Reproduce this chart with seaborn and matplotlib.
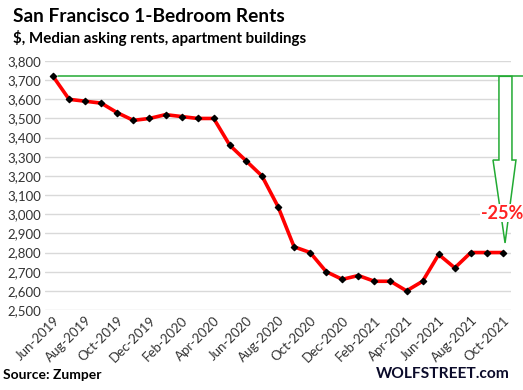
import matplotlib
matplotlib.use("Agg")
import matplotlib.pyplot as plt
import seaborn as sns
import pandas as pd
from matplotlib.patches import Polygon

months = ["Jun-2019","Jul-2019","Aug-2019","Sep-2019","Oct-2019","Nov-2019","Dec-2019",
          "Jan-2020","Feb-2020","Mar-2020","Apr-2020","May-2020","Jun-2020","Jul-2020",
          "Aug-2020","Sep-2020","Oct-2020","Nov-2020","Dec-2020","Jan-2021","Feb-2021",
          "Mar-2021","Apr-2021","May-2021","Jun-2021","Jul-2021","Aug-2021","Sep-2021","Oct-2021"]
rents = [3720, 3600, 3590, 3580, 3530, 3490, 3500, 3520, 3510, 3500, 3500, 3360, 3280, 3200,
         3040, 2830, 2800, 2700, 2660, 2680, 2650, 2650, 2600, 2650, 2790, 2720, 2800, 2800, 2800]
yticks = list(range(2500, 3801, 100))
peak = 3720
pct_label = "-25%"

sns.set_theme(style="white")
plt.rcParams['font.family'] = ['Lato', 'DejaVu Sans']

df = pd.DataFrame({"idx": range(len(months)), "month": months, "rent": rents})

fig = plt.figure(figsize=(5.23, 3.9), dpi=100)
ax = fig.add_axes([45/523, 1-310/390, (511-45)/523, (310-61)/390])

for v in yticks:
    ax.axhline(v, color="#d9d9d9", lw=1.0, zorder=0)

sns.lineplot(data=df, x="idx", y="rent", ax=ax, color="#ff0000", lw=2.6, zorder=3)
ax.scatter(df["idx"], df["rent"], marker="D", s=10, color="black", zorder=4)

ax.set_xlim(-0.5, len(months) - 0.5)
ax.set_ylim(2500, 3800)
ax.set_yticks(yticks)
ax.set_yticklabels([f"{v:,}" for v in yticks], fontsize=9.5, color="#333333")
ax.set_xticks(range(0, len(months), 2))
ax.set_xticklabels(months[::2], rotation=45, ha="right", rotation_mode="anchor",
                   fontsize=9.5, color="#333333")
ax.tick_params(axis="both", length=0, pad=3)
ax.set_xlabel("")
ax.set_ylabel("")
for s in ax.spines.values():
    s.set_visible(False)

# green reference line and arrow
green = "#22aa33"
ax.plot([0.3, 29.6], [peak, peak], color=green, lw=1.1, clip_on=False, zorder=2)
arrow = [(27.75, peak), (27.75, 3283), (27.38, 3283), (28.13, 2850),
         (28.81, 3283), (28.56, 3283), (28.56, peak)]
ax.add_patch(Polygon(arrow, closed=True, fill=True, facecolor="white",
                     edgecolor=green, lw=1.1, clip_on=False, zorder=2))
ax.text(27.94, 3005, pct_label, color="#ff2222", fontsize=13, fontweight="bold",
        ha="center", va="center", zorder=5,
        bbox=dict(facecolor="white", edgecolor="none", pad=0.5))

fig.text(13/523, 1-16/390, "San Francisco 1-Bedroom Rents", fontsize=13.8, fontweight="bold",
         color="black", va="center", ha="left")
fig.text(13/523, 1-38/390, "$, Median asking rents, apartment buildings", fontsize=10.9,
         fontweight="bold", color="black", va="center", ha="left")
fig.text(3/523, 1-375/390, "Source: Zumper", fontsize=10, fontweight="bold",
         color="black", va="center", ha="left")
fig.text(376/523, 1-374/390, "WOLFSTREET.com", fontsize=11.2, fontweight="bold",
         color="#0b0b2a", va="center", ha="left")

fig.savefig("out.png", dpi=100)
